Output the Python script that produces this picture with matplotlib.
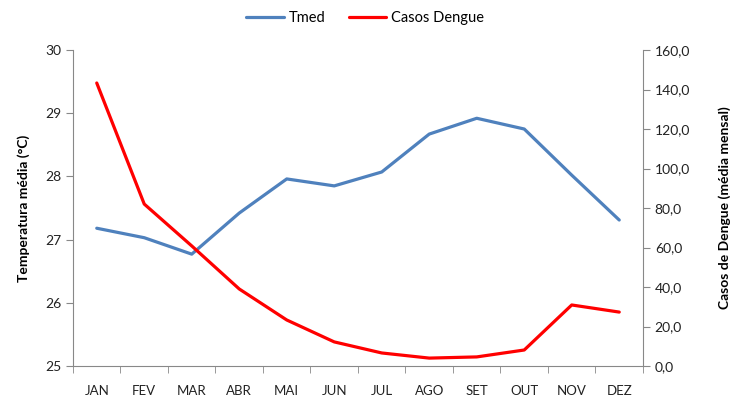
import matplotlib
matplotlib.use("Agg")
import matplotlib.pyplot as plt
from matplotlib.ticker import FuncFormatter

months = ["JAN", "FEV", "MAR", "ABR", "MAI", "JUN", "JUL", "AGO", "SET", "OUT", "NOV", "DEZ"]
tmed = [27.18, 27.03, 26.77, 27.42, 27.96, 27.85, 28.07, 28.67, 28.92, 28.75, 28.02, 27.31]
casos = [143.3, 82.0, 60.8, 39.0, 23.3, 12.2, 6.6, 4.0, 4.6, 8.1, 30.9, 27.3]

plt.rcParams['font.family'] = ['Lato', 'DejaVu Sans']

fig = plt.figure(figsize=(7.3, 4.05), dpi=100)
ax = fig.add_axes([0.1, 0.0963, 0.7808, 0.7802])
ax2 = ax.twinx()

x = list(range(len(months)))
l1, = ax.plot(x, tmed, color="#4F81BD", lw=2.3, solid_capstyle='round', solid_joinstyle='round', label="Tmed")
l2, = ax2.plot(x, casos, color="#FF0000", lw=2.3, solid_capstyle='round', solid_joinstyle='round', label="Casos Dengue")

ax.set_xlim(-0.5, len(months) - 0.5)
ax.set_ylim(25, 30)
ax2.set_ylim(0, 160)
ax.set_yticks([25, 26, 27, 28, 29, 30])
ax2.set_yticks([0, 20, 40, 60, 80, 100, 120, 140, 160])
ax2.yaxis.set_major_formatter(FuncFormatter(lambda v, p: f"{v:.1f}".replace(".", ",")))

ax.set_xticks(x)
ax.set_xticklabels(months)
ax.set_xticks([i - 0.5 for i in range(len(months) + 1)], minor=True)
ax.tick_params(axis='x', which='major', length=0, pad=14)
ax.tick_params(axis='x', which='minor', length=5, color="#888888", direction='out')

gray = "#888888"
for a in (ax, ax2):
    a.spines['top'].set_visible(False)
    for s in ('left', 'right', 'bottom'):
        a.spines[s].set_color(gray)
ax.spines['right'].set_visible(False)
ax2.spines['left'].set_visible(False)
ax2.spines['bottom'].set_visible(False)

ax.tick_params(axis='y', length=5, color=gray, labelsize=10, labelcolor='#222222')
ax2.tick_params(axis='y', length=5, color=gray, labelsize=10, labelcolor='#222222')
ax.tick_params(axis='x', labelsize=9.5, labelcolor='#222222')

ax.set_ylabel("Temperatura média (°C)", fontsize=10, fontweight='bold', labelpad=11)
ax2.set_ylabel("Casos de Dengue (média mensal)", fontsize=10, fontweight='bold', labelpad=20)

fig.legend(handles=[l1, l2], loc='upper center', bbox_to_anchor=(0.5, 1.005), ncol=2,
           frameon=False, fontsize=10.5, handlelength=2.6, columnspacing=1.6, handletextpad=0.3)

fig.savefig("out.png", dpi=100)
